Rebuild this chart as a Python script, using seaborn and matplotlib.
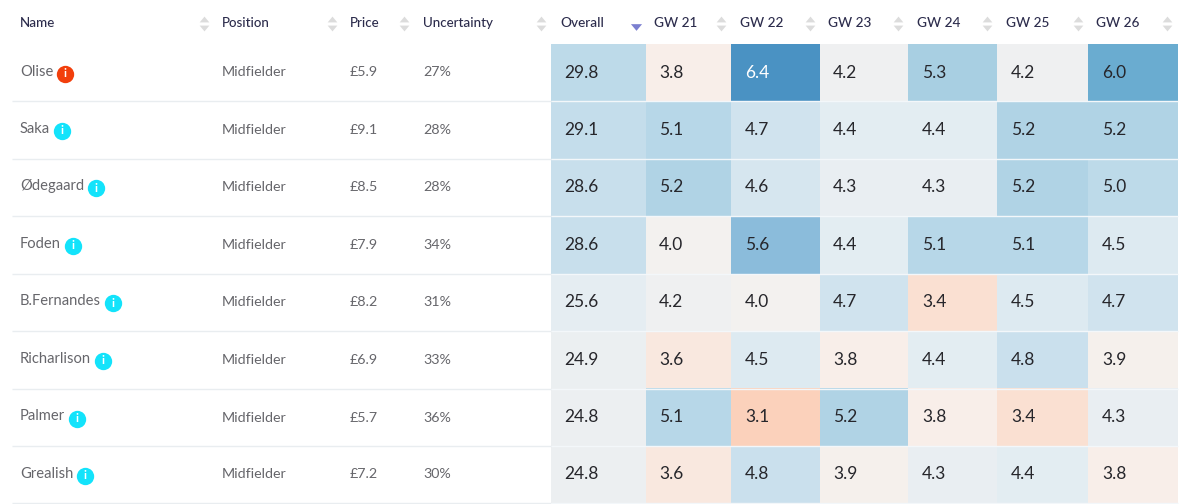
import numpy as np
import pandas as pd
import seaborn as sns
import matplotlib
matplotlib.use("Agg")
import matplotlib.pyplot as plt
from matplotlib.colors import LinearSegmentedColormap
from matplotlib.path import Path

sns.set_theme(style="white")
plt.rcParams["font.family"] = ["Lato", "DejaVu Sans"]

players = ["Olise", "Saka", "Ødegaard", "Foden", "B.Fernandes", "Richarlison", "Palmer", "Grealish"]
positions = ["Midfielder"] * 8
prices = ["£5.9", "£9.1", "£8.5", "£7.9", "£8.2", "£6.9", "£5.7", "£7.2"]
uncertainty = ["27%", "28%", "28%", "34%", "31%", "33%", "36%", "30%"]
overall = [29.8, 29.1, 28.6, 28.6, 25.6, 24.9, 24.8, 24.8]
gw21 = [3.8, 5.1, 5.2, 4.0, 4.2, 3.6, 5.1, 3.6]
gw22 = [6.4, 4.7, 4.6, 5.6, 4.0, 4.5, 3.1, 4.8]
gw23 = [4.2, 4.4, 4.3, 4.4, 4.7, 3.8, 5.2, 3.9]
gw24 = [5.3, 4.4, 4.3, 5.1, 3.4, 4.4, 3.8, 4.3]
gw25 = [4.2, 5.2, 5.2, 5.1, 4.5, 4.8, 3.4, 4.4]
gw26 = [6.0, 5.2, 5.0, 4.5, 4.7, 3.9, 4.3, 3.8]
columns = ["Overall", "GW 21", "GW 22", "GW 23", "GW 24", "GW 25", "GW 26"]
series = [overall, gw21, gw22, gw23, gw24, gw25, gw26]

W, H = 1200, 504
col_edges = [551, 646, 731, 820, 908, 997, 1088, 1178]
row_edges = [44, 101, 158.5, 216, 273.5, 331, 389, 446, 503]
text_offset = [13, 13, 14, 13, 14, 14, 14]
header_x = [560, 654, 740, 828, 917, 1006, 1096]
arrow_x = [None, 721, 810, 898, 987, 1078, 1167]

anchors = [(3.1, "#fbd1bb"), (3.4, "#fae0d2"), (3.6, "#f9e8e0"), (3.8, "#f8eee9"),
           (4.0, "#f3f1ef"), (4.2, "#eff0f1"), (4.4, "#e3edf2"), (4.7, "#d0e3ee"),
           (5.1, "#b7d7e8"), (5.3, "#a8cfe2"), (5.6, "#8bbcdb"), (6.0, "#6aacd0"),
           (6.4, "#4a92c3")]
gmin, gmax = 3.1, 6.4
cmap = LinearSegmentedColormap.from_list(
    "fpl", [((v - gmin) / (gmax - gmin), c) for v, c in anchors])

fig = plt.figure(figsize=(W / 100, H / 100), dpi=100, facecolor="white")

bottom = (H - row_edges[-1]) / H
height = (row_edges[-1] - row_edges[0]) / H
for j, (name, vals) in enumerate(zip(columns, series)):
    ax = fig.add_axes([col_edges[j] / W, bottom, (col_edges[j + 1] - col_edges[j]) / W, height])
    frame = pd.DataFrame({name: vals}, index=players)
    vmin, vmax = (17.17, 39.1) if j == 0 else (gmin, gmax)
    sns.heatmap(frame, ax=ax, cmap=cmap, vmin=vmin, vmax=vmax, cbar=False,
                xticklabels=False, yticklabels=False)
    ax.set_xlabel("")
    ax.set_ylabel("")
    for i, v in enumerate(vals):
        ax.annotate(f"{v:.1f}", (0, i + 0.5), xytext=(text_offset[j] * 0.72, 0),
                    textcoords="offset points", ha="left", va="center", fontsize=12.5,
                    color="white" if v == 6.4 else "#26262b")

ov = fig.add_axes([0, 0, 1, 1], zorder=5)
ov.set_xlim(0, W)
ov.set_ylim(H, 0)
ov.axis("off")
ov.patch.set_alpha(0)

for y in row_edges[1:]:
    ov.plot([12, 551], [y, y], color="#e9edf0", lw=1, solid_capstyle="butt")
    ov.plot([551, 1178], [y, y], color="#f3f7fa", lw=1, solid_capstyle="butt")

head_color = "#2c2c4c"
for label, x in zip(["Name", "Position", "Price", "Uncertainty"], [20, 222, 350, 423]):
    ov.text(x, 23, label, fontsize=9.6, color=head_color, va="center", ha="left", fontweight="medium")
for label, x in zip(columns, header_x):
    ov.text(x, 23, label, fontsize=9.8, color=head_color, va="center", ha="left", fontweight="medium")

up = Path([(-1, -0.6), (1, -0.6), (0, 0.6), (-1, -0.6)], closed=True)
down = Path([(-1, 0.6), (1, 0.6), (0, -0.6), (-1, 0.6)], closed=True)
for x in [204, 332, 404, 541] + arrow_x[1:]:
    ov.plot([x], [19], marker=up, ms=7, color="#dcdcdc", mew=0)
    ov.plot([x], [27.5], marker=down, ms=7, color="#dcdcdc", mew=0)
ov.plot([636], [27], marker=down, ms=8, color="#7b7fd0", mew=0)

body = "#66666b"
fig.canvas.draw()
renderer = fig.canvas.get_renderer()
for i, player in enumerate(players):
    yc = (row_edges[i] + row_edges[i + 1]) / 2
    t = ov.text(20, yc - 1, player, fontsize=10.6, color=body, va="center", ha="left")
    right = t.get_window_extent(renderer).x1
    cx, cy = right + 12, yc + 1
    ov.plot([cx], [cy], marker="o", ms=12.5, mew=0, color="#f23f0c" if i == 0 else "#13e3fb")
    ov.text(cx, cy, "i", fontsize=8.5, fontweight="bold", color="white", va="center", ha="center")
    ov.text(222, yc, positions[i], fontsize=10.3, color=body, va="center", ha="left")
    ov.text(350, yc, prices[i], fontsize=10.3, color=body, va="center", ha="left")
    ov.text(423, yc, uncertainty[i], fontsize=10.3, color=body, va="center", ha="left")

fig.savefig("out.png", dpi=100, facecolor="white")
